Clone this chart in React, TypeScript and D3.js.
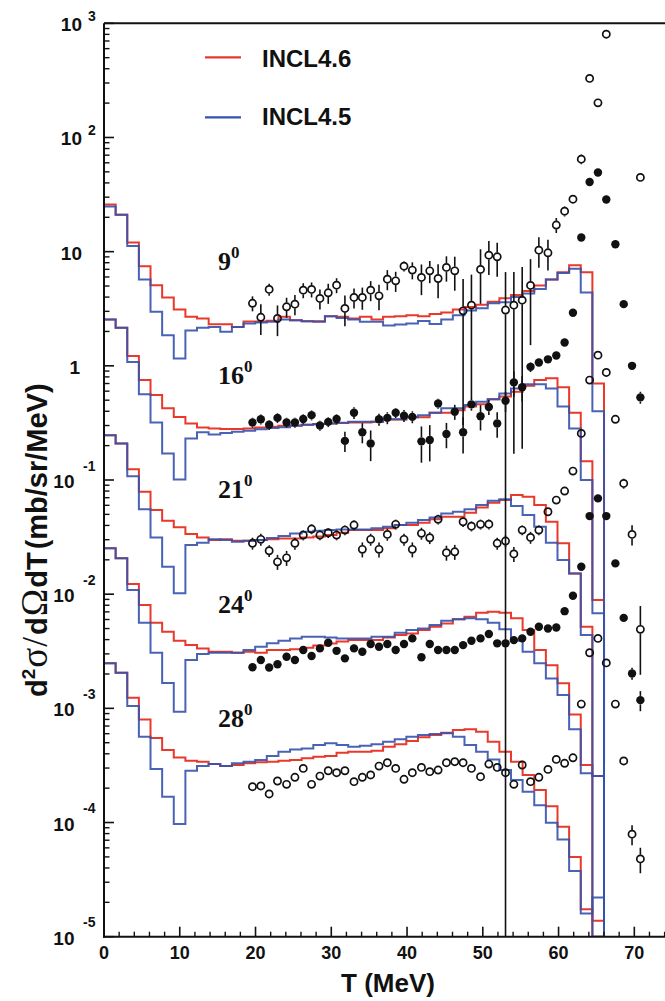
import React from "react";
import * as d3 from "d3";

// ---------------- data ----------------
// Histogram: 43 bins from 0 to 66 MeV
const HIST_T_MAX = 66;
const X_MAX = 74.05;

// INCL4.6 (red) / INCL4.5 (blue) per angle, mb/sr/MeV (scaled per angle as in the figure)
const INCL46_09 = [25.9, 21.0, 12.0, 7.46, 5.09, 3.97, 3.12, 2.69, 2.60, 2.31, 2.31, 2.19, 2.45, 2.45, 2.48, 2.69, 2.51, 2.46, 2.46, 2.72, 2.69,
  2.60, 2.69, 2.55, 2.69, 2.72, 2.78, 2.72, 2.85, 2.93, 3.12, 3.27, 3.43, 3.64, 3.90, 4.17, 4.53, 5.06, 5.71, 6.6, 7.6, 6.6, 0.70];
const INCL45_09 = [24.8, 21.0, 11.2, 5.71, 2.97, 1.85, 1.16, 2.04, 2.15, 2.19, 1.99, 2.19, 2.35, 2.40, 2.43, 2.55, 2.51, 2.46, 2.43, 2.72, 2.63,
  2.55, 2.43, 2.43, 2.25, 2.30, 2.35, 2.47, 2.32, 2.55, 2.78, 3.05, 3.20, 3.53, 3.6, 4.0, 4.3, 4.7, 5.7, 6.5, 7.1, 4.38, 0.40];

const INCL46_16 = [2.55, 2.15, 1.22, 0.75, 0.554, 0.424, 0.357, 0.313, 0.289, 0.283, 0.280, 0.280, 0.283, 0.289, 0.293, 0.298, 0.30, 0.305, 0.31, 0.313, 0.316,
  0.319, 0.319, 0.323, 0.339, 0.339, 0.354, 0.354, 0.388, 0.388, 0.409, 0.44, 0.46, 0.51, 0.54, 0.592, 0.67, 0.75, 0.78, 0.65, 0.388, 0.146, 0.0089];
const INCL45_16 = [2.55, 2.15, 1.08, 0.565, 0.319, 0.171, 0.101, 0.231, 0.262, 0.25, 0.258, 0.265, 0.27, 0.278, 0.285, 0.29, 0.298, 0.305, 0.31, 0.313, 0.318,
  0.323, 0.323, 0.323, 0.340, 0.340, 0.354, 0.370, 0.388, 0.424, 0.424, 0.453, 0.484, 0.51, 0.573, 0.634, 0.691, 0.691, 0.634, 0.44, 0.283, 0.10, 0.0068];

const INCL46_21 = [0.247, 0.209, 0.124, 0.0788, 0.0545, 0.0439, 0.0385, 0.0336, 0.0314, 0.0298, 0.0302, 0.0294, 0.0294, 0.0298, 0.0302, 0.0308, 0.0308, 0.0314, 0.0320, 0.0329, 0.0345,
  0.0364, 0.0364, 0.0364, 0.0377, 0.0403, 0.0403, 0.0422, 0.0452, 0.0476, 0.0476, 0.0516, 0.0575, 0.0631, 0.0667, 0.0738, 0.0713, 0.0603, 0.0431, 0.0279, 0.0152, 0.00519, 0];
const INCL45_21 = [0.247, 0.209, 0.108, 0.0553, 0.0314, 0.0174, 0.0102, 0.0269, 0.0282, 0.0302, 0.0298, 0.0288, 0.0294, 0.0298, 0.0310, 0.0323, 0.0340, 0.0352, 0.0360, 0.0365, 0.0369,
  0.0369, 0.0369, 0.0377, 0.0389, 0.0403, 0.0422, 0.0446, 0.0470, 0.0509, 0.0527, 0.0553, 0.0603, 0.0657, 0.0678, 0.0591, 0.0493, 0.0389, 0.0282, 0.0199, 0.0152, 0.00438, 0];

const INCL46_24 = [0.0252, 0.0206, 0.01225, 8.02e-3, 5.62e-3, 4.69e-3, 3.91e-3, 3.58e-3, 3.35e-3, 3.13e-3, 3.13e-3, 3.07e-3, 3.13e-3, 3.07e-3, 3.24e-3, 3.24e-3, 3.29e-3, 3.40e-3, 3.55e-3, 3.70e-3, 3.85e-3,
  3.96e-3, 3.96e-3, 3.96e-3, 4.18e-3, 4.38e-3, 4.53e-3, 4.85e-3, 5.19e-3, 5.54e-3, 6.02e-3, 6.34e-3, 6.87e-3, 7.01e-3, 6.87e-3, 6.14e-3, 4.85e-3, 3.24e-3, 2.39e-3, 1.66e-3, 8.85e-4, 3.19e-4, 2.55e-4];
const INCL45_24 = [0.0252, 0.0206, 0.01086, 5.62e-3, 3.07e-3, 1.67e-3, 9.33e-4, 2.65e-3, 2.99e-3, 3.07e-3, 3.07e-3, 3.07e-3, 3.24e-3, 3.46e-3, 3.71e-3, 3.91e-3, 4.10e-3, 4.24e-3, 4.24e-3, 4.18e-3, 4.10e-3,
  4.10e-3, 4.10e-3, 4.24e-3, 4.24e-3, 4.59e-3, 4.85e-3, 5.01e-3, 5.36e-3, 5.85e-3, 6.02e-3, 6.14e-3, 6.02e-3, 5.62e-3, 4.92e-3, 3.91e-3, 3.13e-3, 2.48e-3, 1.83e-3, 1.31e-3, 6.55e-4, 2.7e-4, 2.55e-4];

const INCL46_28 = [2.48e-3, 2.05e-3, 1.24e-3, 8.0e-4, 5.5e-4, 4.31e-4, 3.72e-4, 3.48e-4, 3.41e-4, 3.25e-4, 3.12e-4, 3.19e-4, 3.30e-4, 3.37e-4, 3.41e-4, 3.48e-4, 3.53e-4, 3.65e-4, 3.77e-4, 3.82e-4, 4.08e-4,
  4.17e-4, 4.17e-4, 4.25e-4, 4.61e-4, 4.84e-4, 5.17e-4, 5.57e-4, 5.83e-4, 6.11e-4, 6.46e-4, 6.55e-4, 6.24e-4, 5.1e-4, 4.17e-4, 3.41e-4, 2.61e-4, 1.93e-4, 1.39e-4, 9.2e-5, 5.0e-5, 1.74e-5, 1.38e-5];
const INCL45_28 = [2.48e-3, 2.05e-3, 1.05e-3, 5.64e-4, 2.94e-4, 1.68e-4, 9.7e-5, 2.84e-4, 3.12e-4, 3.25e-4, 3.12e-4, 3.30e-4, 3.41e-4, 3.53e-4, 3.82e-4, 4.17e-4, 4.37e-4, 4.46e-4, 4.77e-4, 4.94e-4, 4.77e-4,
  4.61e-4, 4.7e-4, 4.84e-4, 5.1e-4, 5.35e-4, 5.64e-4, 5.83e-4, 5.95e-4, 6.04e-4, 5.64e-4, 4.77e-4, 4.17e-4, 3.57e-4, 2.88e-4, 2.36e-4, 1.86e-4, 1.42e-4, 9.96e-5, 7.1e-5, 3.76e-5, 1.6e-5, 2.21e-5];

// Experimental kinetic energies (MeV)
const T_DATA = [19.6, 20.7, 21.8, 22.9, 24.1, 25.2, 26.3, 27.4, 28.5, 29.6, 30.7, 31.8,
  33.0, 34.1, 35.2, 36.3, 37.4, 38.5, 39.6, 40.7, 41.9, 43.0, 44.1, 45.2, 46.3,
  47.4, 48.5, 49.7, 50.8, 51.9, 53.0, 54.1, 55.2, 56.3, 57.4, 58.6, 59.7,
  60.8, 61.9, 63.0, 64.1, 65.2, 66.3, 67.5, 68.6, 69.7, 70.8];

const DATA_09 = [3.53, 2.66, 4.67, 2.60, 3.29, 3.47, 4.60, 4.67, 3.89, 4.36, 5.09, 3.18,
  3.97, 3.97, 4.60, 4.10, 5.74, 5.55, 7.46, 6.89, 5.94, 6.79, 5.82, 7.28, 6.79,
  3.03, 3.40, 6.98, 9.31, 9.01, 3.08, 3.40, 3.76, 5.06, 10.3, 9.77, 17.1, 22.6, 28.8,
  64.6, 329, 201, 803, null, null, null, 44.7];
const ERR_09 = [0.15, 0.3, 0.12, 0.3, 0.2, 0.2, 0.15, 0.15, 0.2, 0.2, 0.15, 0.3,
  0.2, 0.22, 0.2, 0.25, 0.2, 0.2, 0.1, 0.17, 0.3, 0.22, 0.33, 0.25, 0.33,
  0.9, 0.85, 0.5, 0.33, 0.33, 1.15, 0.95, 0.95, 0.7, 0.3, 0.3, 0.15, 0.1, 0.08,
  0.1, 0.03, 0.03, 0.03, null, null, null, 0.05];

const DATA_16 = [0.319, 0.340, 0.305, 0.35, 0.319, 0.319, 0.342, 0.37, 0.30, 0.323, 0.342, 0.22,
  0.388, 0.262, 0.209, 0.340, 0.35, 0.388, 0.366, 0.357, 0.218, 0.224, 0.468, 0.253, 0.396,
  0.262, 0.46, 0.362, 0.436, 0.313, 0.494, 0.716, 0.65, 0.98, 1.07, 1.14, 1.23, 1.60, 2.92,
  13.3, 40.8, 49.4, 28.6, 11.6, 3.47, 1.0, 0.529];
const ERR_16 = [0.1, 0.1, 0.1, 0.1, 0.1, 0.1, 0.1, 0.1, 0.1, 0.1, 0.1, 0.2,
  0.12, 0.2, 0.3, 0.12, 0.12, 0.1, 0.12, 0.12, 0.35, 0.35, 0.1, 0.25, 0.15,
  0.35, 0.12, 0.25, 0.15, 0.25, 0.2, 0.25, 0.25, 0.1, 0.08, 0.08, 0.08, 0.08, 0.06,
  0.05, 0.03, 0.03, 0.03, 0.05, 0.06, 0.08, 0.12];

const DATA_21 = [0.0279, 0.0302, 0.0240, 0.0192, 0.0208, 0.0279, 0.0329, 0.0372, 0.0329, 0.0345, 0.0329, 0.0364,
  0.0403, 0.0247, 0.0302, 0.0247, 0.0334, 0.0409, 0.0302, 0.0247, 0.0341, 0.0312, 0.0452, 0.0231, 0.0235,
  0.0431, 0.0394, 0.0409, 0.041, 0.0279, 0.0292, 0.0225, 0.0364, 0.0314, 0.0364, 0.0527, 0.0667, 0.080, 0.1197,
  0.256, 0.75, 1.24, 0.875, 0.34, 0.0933, 0.0334, 0.00492];
const ERR_21 = [0.12, 0.12, 0.12, 0.15, 0.15, 0.12, 0.1, 0.1, 0.1, 0.1, 0.1, 0.1,
  0.1, 0.15, 0.12, 0.15, 0.12, 0.1, 0.12, 0.15, 0.12, 0.12, 0.1, 0.15, 0.15,
  0.1, 0.1, 0.1, 0.1, 0.12, 0.12, 0.15, 0.1, 0.12, 0.1, 0.08, 0.08, 0.08, 0.06,
  0.05, 0.03, 0.03, 0.03, 0.05, 0.1, 0.2, 0.6];

const DATA_24 = [2.29e-3, 2.65e-3, 2.28e-3, 2.43e-3, 2.83e-3, 2.65e-3, 3.24e-3, 2.87e-3, 3.35e-3, 3.75e-3, 3.19e-3, 2.74e-3,
  3.35e-3, 3.13e-3, 3.66e-3, 3.46e-3, 3.66e-3, 3.24e-3, 3.66e-3, 4.10e-3, 2.80e-3, 3.66e-3, 3.24e-3, 3.24e-3, 3.24e-3,
  3.58e-3, 3.91e-3, 4.10e-3, 4.48e-3, 3.71e-3, 3.71e-3, 3.96e-3, 4.10e-3, 4.69e-3, 5.19e-3, 5.01e-3, 5.1e-3, 7.1e-3, 9.7e-3,
  0.0174, 0.0483, 0.069, 0.0483, 0.0186, 6.2e-3, 2.02e-3, 1.18e-3];
const ERR_24 = [0.06, 0.06, 0.06, 0.06, 0.06, 0.06, 0.06, 0.06, 0.06, 0.06, 0.06, 0.06,
  0.06, 0.06, 0.06, 0.06, 0.06, 0.06, 0.06, 0.06, 0.08, 0.06, 0.06, 0.06, 0.06,
  0.06, 0.06, 0.06, 0.06, 0.06, 0.06, 0.06, 0.06, 0.06, 0.05, 0.05, 0.05, 0.05, 0.05,
  0.04, 0.03, 0.03, 0.03, 0.04, 0.06, 0.12, 0.2];

const DATA_28 = [2.06e-4, 2.09e-4, 1.78e-4, 2.31e-4, 2.16e-4, 2.49e-4, 2.98e-4, 2.16e-4, 2.55e-4, 2.84e-4, 2.73e-4, 2.84e-4,
  2.28e-4, 2.49e-4, 2.61e-4, 3.12e-4, 3.34e-4, 2.98e-4, 2.39e-4, 2.73e-4, 3.04e-4, 2.79e-4, 2.88e-4, 3.34e-4, 3.41e-4,
  3.34e-4, 2.98e-4, 2.52e-4, 3.25e-4, 3.04e-4, 2.73e-4, 2.16e-4, 3.19e-4, 2.28e-4, 2.49e-4, 2.92e-4, 3.57e-4, 3.30e-4, 3.69e-4,
  1.09e-3, 3.07e-3, 4.10e-3, 2.5e-3, 1.09e-3, 3.46e-4, 7.9e-5, 4.8e-5];
const ERR_28 = [0.06, 0.06, 0.06, 0.06, 0.06, 0.06, 0.06, 0.06, 0.06, 0.06, 0.06, 0.06,
  0.06, 0.06, 0.06, 0.06, 0.06, 0.06, 0.06, 0.06, 0.06, 0.06, 0.06, 0.06, 0.06,
  0.06, 0.06, 0.06, 0.06, 0.06, 0.06, 0.06, 0.06, 0.06, 0.06, 0.06, 0.06, 0.06, 0.06,
  0.05, 0.04, 0.04, 0.04, 0.05, 0.08, 0.2, 0.25];

const ANGLES = ["9", "16", "21", "24", "28"];
const ANGLE_LABEL_VALUES = [6.9, 0.69, 0.069, 0.0068, 0.00069];

const X_MAJOR = [0, 10, 20, 30, 40, 50, 60, 70];
const Y_EXPONENTS = [3, 2, 1, 0, -1, -2, -3, -4, -5];

const RED = "#e8392b";
const BLUE = "#3452ad";
const SANS = "'Liberation Sans', Arial, Helvetica, sans-serif";
const SERIF = "'Liberation Serif', 'Times New Roman', serif";

const SERIES = [
  { data: DATA_09, err: ERR_09, filled: false, red: INCL46_09, blue: INCL45_09 },
  { data: DATA_16, err: ERR_16, filled: true, red: INCL46_16, blue: INCL45_16 },
  { data: DATA_21, err: ERR_21, filled: false, red: INCL46_21, blue: INCL45_21 },
  { data: DATA_24, err: ERR_24, filled: true, red: INCL46_24, blue: INCL45_24 },
  { data: DATA_28, err: ERR_28, filled: false, red: INCL46_28, blue: INCL45_28 },
];

export default function App() {
  const left = 104, right = 665, top = 23.3, bottom = 936.7;
  const x = d3.scaleLinear().domain([0, X_MAX]).range([left, right]);
  const y = d3.scaleLog().domain([1e-5, 1e3]).range([bottom, top]);
  const yOf = (v: number | null) => (v != null && v > 0 ? Math.min(y(v), bottom) : bottom);

  const histPath = (vals: number[]) => {
    const bw = HIST_T_MAX / vals.length;
    let p = `M${x(0)},${bottom}`;
    vals.forEach((v, i) => {
      const yy = yOf(v);
      p += `L${x(i * bw)},${yy}L${x((i + 1) * bw)},${yy}`;
    });
    p += `L${x(HIST_T_MAX)},${bottom}`;
    return p;
  };

  const R = 4.2;

  const xMinor = d3.range(0, X_MAX, 2).filter((t) => t % 10 !== 0);
  const yMinor: number[] = [];
  for (let e = -5; e < 3; e++) for (let k = 2; k <= 9; k++) yMinor.push(k * Math.pow(10, e));

  return (
    <svg width={665} height={1001} style={{ position: "absolute", left: 0, top: 0, background: "#fff" }}>
      <rect x={0} y={0} width={665} height={1001} fill="#fff" />
      <defs>
        <clipPath id="plot">
          <rect x={left} y={top} width={right - left + 2} height={bottom - top} />
        </clipPath>
      </defs>

      <g clipPath="url(#plot)">
        {SERIES.map((s, i) => (
          <path key={"r" + i} d={histPath(s.red)} fill="none" stroke={RED} strokeWidth={2} />
        ))}
        {SERIES.map((s, i) => (
          <path key={"b" + i} d={histPath(s.blue)} fill="none" stroke={BLUE} strokeWidth={2} strokeOpacity={0.9} />
        ))}
        {SERIES.map((s, si) =>
          s.data.map((v, i) => {
            if (v == null) return null;
            const cx = x(T_DATA[i]);
            const cy = y(v);
            const f = s.err[i] ?? 0;
            const yHi = y(v * (1 + f));
            const lo = v * (1 - f);
            const yLo = lo > 0 ? Math.min(y(lo), bottom) : bottom;
            return (
              <g key={si + "-" + i}>
                {yHi < cy - R && <line x1={cx} x2={cx} y1={yHi} y2={cy - R} stroke="#111" strokeWidth={1.6} />}
                {yLo > cy + R && <line x1={cx} x2={cx} y1={cy + R} y2={yLo} stroke="#111" strokeWidth={1.6} />}
                {s.filled ? (
                  <circle cx={cx} cy={cy} r={R} fill="#111" />
                ) : (
                  <circle cx={cx} cy={cy} r={R - 0.6} fill="none" stroke="#111" strokeWidth={1.7} />
                )}
              </g>
            );
          })
        )}
      </g>

      {/* frame */}
      <line x1={left} x2={right} y1={top} y2={top} stroke="#111" strokeWidth={2} />
      <line x1={left} x2={left} y1={top} y2={bottom + 1} stroke="#111" strokeWidth={2} />
      <line x1={left - 1} x2={right} y1={bottom} y2={bottom} stroke="#111" strokeWidth={2} />

      {/* x ticks */}
      {X_MAJOR.map((t) => (
        <g key={"xt" + t}>
          <line x1={x(t)} x2={x(t)} y1={bottom} y2={bottom - 10} stroke="#111" strokeWidth={1.6} />
          <text x={x(t)} y={958.5} textAnchor="middle" fontFamily={SANS} fontWeight="bold" fontSize={18} fill="#111">
            {t}
          </text>
        </g>
      ))}
      {xMinor.map((t) => (
        <line key={"xm" + t} x1={x(t)} x2={x(t)} y1={bottom} y2={bottom - 5} stroke="#111" strokeWidth={1.4} />
      ))}

      {/* y ticks */}
      {Y_EXPONENTS.map((e) => {
        const ty = y(Math.pow(10, e));
        return (
          <g key={"yt" + e}>
            <line x1={left} x2={left + 10} y1={ty} y2={ty} stroke="#111" strokeWidth={1.6} />
            {e === 1 && (
              <text x={82} y={ty + 8} textAnchor="end" fontFamily={SANS} fontWeight="bold" fontSize={19} fill="#111">10</text>
            )}
            {e === 0 && (
              <text x={80} y={ty + 8} textAnchor="end" fontFamily={SANS} fontWeight="bold" fontSize={19} fill="#111">1</text>
            )}
            {e > 1 && (
              <g>
                <text x={82} y={ty + 8} textAnchor="end" fontFamily={SANS} fontWeight="bold" fontSize={19} fill="#111">10</text>
                <text x={88} y={ty - 2.5} fontFamily={SANS} fontWeight="bold" fontSize={14} fill="#111">{e}</text>
              </g>
            )}
            {e < 0 && (
              <g>
                <text x={74.5} y={ty + 8} textAnchor="end" fontFamily={SANS} fontWeight="bold" fontSize={19} fill="#111">10</text>
                <text x={83} y={ty - 9.5} fontFamily={SANS} fontWeight="bold" fontSize={14} fill="#111">{e}</text>
              </g>
            )}
          </g>
        );
      })}
      {yMinor.map((v, i) => (
        <line key={"ym" + i} x1={left} x2={left + 5.5} y1={y(v)} y2={y(v)} stroke="#111" strokeWidth={1.4} />
      ))}

      {/* axis titles */}
      <text x={388} y={992} textAnchor="middle" fontFamily={SANS} fontWeight="bold" fontSize={26} fill="#111">
        T (MeV)
      </text>
      <text transform="translate(47,697) rotate(-90)" fontFamily={SANS} fontWeight="bold" fontSize={29} fill="#111">
        <tspan>d</tspan>
        <tspan dy={-12} fontSize={19}>2</tspan>
        <tspan dy={12} dx={1} fontFamily={SERIF} fontWeight="normal" fontSize={37}>σ</tspan>
        <tspan dx={1} fontFamily={SERIF} fontWeight="normal" fontSize={35}>/</tspan>
        <tspan dx={2}>d</tspan>
        <tspan dx={1} fontFamily={SERIF} fontWeight="normal" fontSize={37}>Ω</tspan>
        <tspan dx={1}>dT</tspan>
        <tspan dx={3}>(mb/sr/MeV)</tspan>
      </text>

      {/* angle labels */}
      {ANGLES.map((a, i) => {
        const by = y(ANGLE_LABEL_VALUES[i]);
        return (
          <text key={"a" + a} x={218} y={by} fontFamily={SERIF} fontWeight="bold" fontSize={26} fill="#111">
            {a}
            <tspan dy={-12} fontSize={17}>0</tspan>
          </text>
        );
      })}

      {/* legend */}
      <line x1={205} x2={241} y1={57.3} y2={57.3} stroke={RED} strokeWidth={2.2} />
      <text x={262} y={67.3} fontFamily={SANS} fontWeight="bold" fontSize={24} fill="#111">INCL4.6</text>
      <line x1={205} x2={241} y1={117.3} y2={117.3} stroke={BLUE} strokeWidth={2.2} />
      <text x={262} y={125} fontFamily={SANS} fontWeight="bold" fontSize={24} fill="#111">INCL4.5</text>
    </svg>
  );
}
